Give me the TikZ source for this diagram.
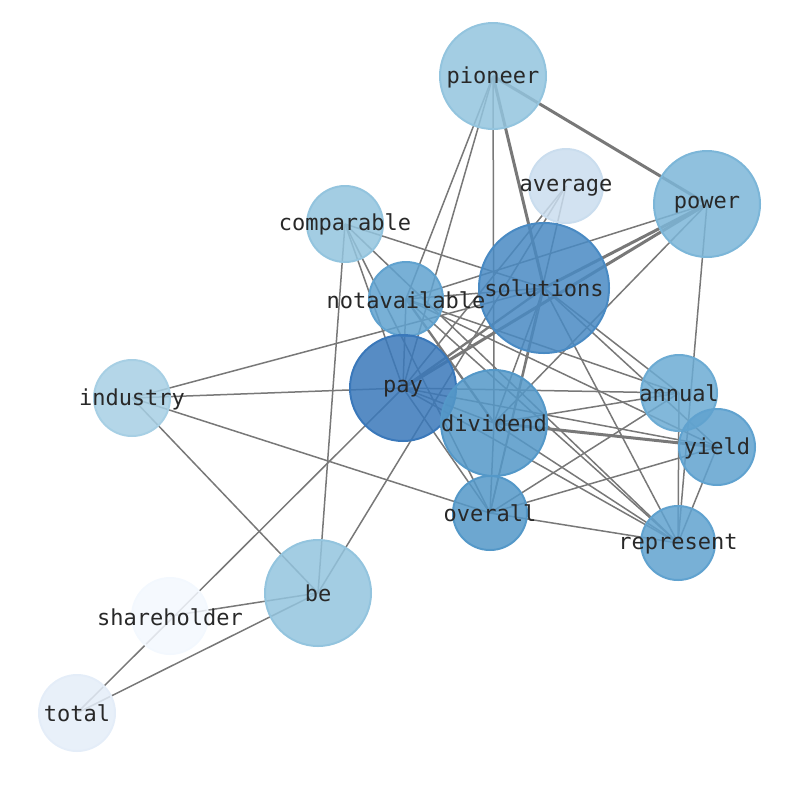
\documentclass[tikz,border=0pt]{standalone}
\usepackage{fontspec}
\newfontfamily\lblfont{DejaVu Sans Mono}
\usetikzlibrary{backgrounds}
\definecolor{cA}{RGB}{147,196,222}
\definecolor{cAv}{RGB}{202,221,238}
\definecolor{cW}{RGB}{124,182,216}
\definecolor{cI}{RGB}{167,207,228}
\definecolor{cS}{RGB}{73,138,195}
\definecolor{cN}{RGB}{96,162,207}
\definecolor{cY}{RGB}{58,120,186}
\definecolor{cU}{RGB}{108,171,211}
\definecolor{cD}{RGB}{84,152,200}
\definecolor{cH}{RGB}{243,248,254}
\definecolor{cT}{RGB}{228,237,248}
\definecolor{edgec}{RGB}{120,120,120}
\definecolor{txt}{RGB}{40,40,40}
\tikzset{
  vtx/.style={circle, inner sep=0pt, line width=2pt, fill opacity=0.85, draw opacity=1, minimum size=#1},
  lbl/.style={inner sep=0pt, text=txt, font=\lblfont\fontsize{22}{26}\selectfont},
  edge/.style={draw=edgec, line width=1.5pt},
  mid edge/.style={draw=edgec, line width=2.3pt},
  thick edge/.style={draw=edgec, line width=3pt}
}
\begin{document}
\begin{tikzpicture}[x=1pt,y=-1pt]
\useasboundingbox (0,0) rectangle (794,790);
% nodes
\node[vtx=106pt, fill=cA, draw=cA] (pioneer) at (493,76) {};
\node[vtx=74pt, fill=cAv, draw=cAv] (average) at (566,186) {};
\node[vtx=106pt, fill=cW, draw=cW] (power) at (707,204) {};
\node[vtx=76pt, fill=cA, draw=cA] (comparable) at (345,224) {};
\node[vtx=130pt, fill=cS, draw=cS] (solutions) at (544,288) {};
\node[vtx=74pt, fill=cN, draw=cN] (notavailable) at (406,299) {};
\node[vtx=106pt, fill=cY, draw=cY] (pay) at (403,388) {};
\node[vtx=76pt, fill=cI, draw=cI] (industry) at (132,398) {};
\node[vtx=76pt, fill=cU, draw=cU] (annual) at (679,393) {};
\node[vtx=106pt, fill=cD, draw=cD] (dividend) at (494,423) {};
\node[vtx=76pt, fill=cN, draw=cN] (yield) at (717,447) {};
\node[vtx=74pt, fill=cD, draw=cD] (overall) at (490,513) {};
\node[vtx=74pt, fill=cN, draw=cN] (represent) at (678,543) {};
\node[vtx=106pt, fill=cA, draw=cA] (be) at (318,593) {};
\node[vtx=76pt, fill=cH, draw=cH] (shareholder) at (170,616) {};
\node[vtx=76pt, fill=cT, draw=cT] (total) at (77,713) {};
% labels
\node[lbl] (pioneer-t) at (493,77) {pioneer};
\node[lbl] (average-t) at (566,188) {average};
\node[lbl] (power-t) at (707,205) {power};
\node[lbl] (comparable-t) at (345,224) {comparable};
\node[lbl] (solutions-t) at (544,288) {solutions};
\node[lbl] (notavailable-t) at (406,300) {notavailable};
\node[lbl] (pay-t) at (403,389) {pay};
\node[lbl] (industry-t) at (132,399) {industry};
\node[lbl] (annual-t) at (679,393) {annual};
\node[lbl] (dividend-t) at (494,423) {dividend};
\node[lbl] (yield-t) at (717,448) {yield};
\node[lbl] (overall-t) at (490,513) {overall};
\node[lbl] (represent-t) at (678,544) {represent};
\node[lbl] (be-t) at (318,593) {be};
\node[lbl] (shareholder-t) at (170,617) {shareholder};
\node[lbl] (total-t) at (77,713) {total};
% edges
\begin{scope}[on background layer]
\foreach \a/\b in {pioneer/power, pioneer/solutions, power/solutions, power/pay, dividend/yield}
  \draw[thick edge] (\a.center) -- (\b.center);
\foreach \a/\b in {notavailable/dividend, pay/solutions}
  \draw[mid edge] (\a.center) -- (\b.center);
\foreach \a/\b in {pioneer/dividend, pioneer/notavailable, pioneer/pay,
  average/pay, average/be, average/overall,
  power/notavailable, power/dividend, power/represent,
  comparable/be, comparable/pay, comparable/overall, comparable/solutions, comparable/represent,
  industry/solutions, industry/pay, industry/overall, industry/be,
  notavailable/pay, notavailable/annual, notavailable/yield, notavailable/represent, notavailable/solutions,
  pay/total, pay/annual, pay/yield, pay/represent, pay/overall, pay/dividend,
  dividend/annual, dividend/represent, dividend/overall, dividend/solutions,
  solutions/annual, solutions/yield, solutions/represent, solutions/overall,
  annual/represent, annual/overall,
  yield/represent, yield/overall,
  overall/represent,
  be/total, be/shareholder}
  \draw[edge] (\a.center) -- (\b.center);
\end{scope}
\end{tikzpicture}
\end{document}
